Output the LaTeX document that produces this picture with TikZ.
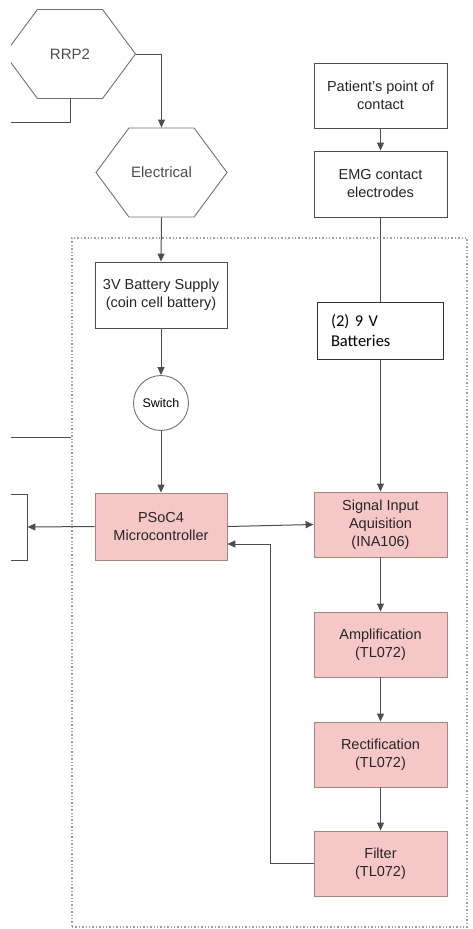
\documentclass[tikz,border=0pt]{standalone}
\usepackage{fontspec}
\setmainfont{Liberation Sans}
\newfontfamily\calibri{Carlito}
\usetikzlibrary{shapes.symbols,shapes.geometric,arrows.meta,positioning}
\definecolor{linegray}{HTML}{4D4D4D}
\definecolor{pinkfill}{HTML}{F5C8C7}
\definecolor{pinkline}{HTML}{A8847F}

\begin{document}
\begin{tikzpicture}[x=1pt, y=-1pt,
  box/.style={rectangle, draw=linegray, line width=0.9pt, fill=white, minimum width=133pt, minimum height=#1, inner sep=0pt, align=center, font=\fontsize{14.5}{18}\selectfont, text=black!85},
  stage/.style={box=65pt, fill=pinkfill, draw=pinkline},
  hexa/.style={signal, signal to=east and west, signal pointer angle=107, draw=linegray!80, line width=0.9pt, minimum width=131pt, minimum height=89pt, inner sep=0pt, font=\fontsize{15}{18}\selectfont, text=black!70},
  ln/.style={draw=linegray, line width=1pt},
  arr/.style={ln, -{Triangle[length=8pt, width=7pt]}},
  dotbox/.style={rectangle, draw=gray!75, line width=1.4pt, dotted, minimum width=395pt, minimum height=689pt, inner sep=0pt}
]
  \useasboundingbox (0,0) rectangle (472,929);
  \clip (11,0) rectangle (472,929);

  % board outline
  \node[dotbox] (board) at (269.5,582.5) {};

  % power side
  \node[hexa] (rrp) at (70,54) {RRP2};
  \node[hexa] (elec) at (161.5,172.5) {Electrical};
  \node[box=66pt, minimum width=132pt] (coin) at (161,295) {3V Battery Supply\\(coin cell battery)};
  \node[circle, draw=linegray!80, line width=0.9pt, minimum size=55pt, inner sep=0pt, font=\fontsize{12.5}{15}\selectfont] (switch) at (161,403) {Switch};
  \node[box=67pt, minimum width=132pt, fill=pinkfill, draw=pinkline] (psoc) at (161,526.5) {PSoC4\\Microcontroller};
  \node[rectangle, draw=linegray, line width=0.9pt, minimum width=80pt, minimum height=66pt] (ext) at (-13,527) {};
  \coordinate (rrpout) at (0,122);
  \coordinate (sidein) at (0,437);

  % signal side
  \node[box=65pt] (patient) at (380.5,95.5) {Patient's point of\\contact};
  \node[box=66pt] (emg) at (380.5,184) {EMG contact\\electrodes};
  \node[stage] (sig) at (380.5,524.5) {Signal Input\\Aquisition\\(INA106)};
  \node[stage] (amp) at (380.5,644.5) {Amplification\\(TL072)};
  \node[stage] (rect) at (380.5,754.5) {Rectification\\(TL072)};
  \node[stage] (filt) at (380.5,863.5) {Filter\\(TL072)};

  % connectors
  \draw[arr] (rrp.east) -| (elec.north);
  \draw[ln] (rrp.south) |- (rrpout);
  \draw[arr] (elec.south) -- (coin.north);
  \draw[arr] (coin.south) -- (switch.north);
  \draw[arr] (switch.south) -- (psoc.north);
  \draw[arr] (psoc.west) -- (ext.east);
  \draw[ln] (sidein) -- (sidein -| board.west);
  \draw[arr] (patient.south) -- (emg.north);
  \draw[arr] (emg.south) -- (sig.north);
  \draw[arr] (psoc.east) -- (sig.west);
  \draw[arr] (sig.south) -- (amp.north);
  \draw[arr] (amp.south) -- (rect.north);
  \draw[arr] (rect.south) -- (filt.north);
  \draw[arr] (filt.west) -- ++(-43,0) |- ([yshift=-17.5pt]psoc.east);

  % label box on the electrode line
  \node[draw=black!80, line width=0.9pt, fill=white, minimum height=57pt, text width=98pt, inner xsep=14pt, inner ysep=0pt, align=left, font=\calibri\fontsize{16.5}{20}\selectfont] (nine) at (380,330.5) {(2) 9 V\\Batteries};
\end{tikzpicture}
\end{document}
